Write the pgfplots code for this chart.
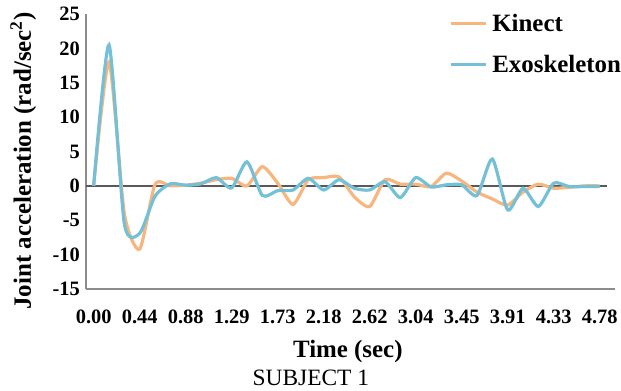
\documentclass[border=0pt]{standalone}
\usepackage{fontspec}
\setmainfont{Liberation Serif}
\usepackage{pgfplots}
\pgfplotsset{compat=1.18}
\definecolor{kin}{RGB}{247,182,128}
\definecolor{exo}{RGB}{116,192,214}
\pgfplotstableread{
k kinect exo
0 0 0
1 18.0 20.5
2 -4.0 -5.5
3 -9.2 -6.9
4 0.2 -1.5
5 0.0 0.3
6 0.1 0.1
7 0.4 0.3
8 0.9 1.2
9 1.1 -0.3
10 0.0 3.5
11 2.8 -1.4
12 0.4 -0.7
13 -2.7 -0.6
14 0.9 1.1
15 1.2 -0.6
16 1.3 0.9
17 -1.6 -0.35
18 -3.0 -0.6
19 0.9 0.6
20 0.25 -1.7
21 0.25 1.2
22 -0.1 -0.15
23 1.85 0.15
24 0.7 0.15
25 -0.9 -1.4
26 -1.9 3.9
27 -2.8 -3.5
28 -0.9 -0.35
29 0.25 -3.0
30 -0.35 0.4
31 -0.2 -0.1
32 0.0 -0.1
33 0.0 -0.1
}\datatable
\begin{document}
\begin{tikzpicture}
\useasboundingbox (0,0) rectangle (621bp,391bp);
\begin{axis}[
 at={(86bp,102bp)}, anchor=south west,
 width=529bp, height=275bp, scale only axis,
 xmin=-0.5, xmax=34, ymin=-15, ymax=25,
 axis lines*=left,
 axis line style={draw=black!45, line width=1.2bp},
 xtick={0,3,...,33},
 xticklabels={0.00,0.44,0.88,1.29,1.73,2.18,2.62,3.04,3.45,3.91,4.33,4.78},
 ytick={-15,-10,...,25},
 major tick length=0pt,
 tick label style={font=\fontsize{20.5}{24}\selectfont\bfseries},
 /pgf/number format/assume math mode=true,
 xticklabel style={anchor=base, yshift=-34bp, inner sep=0pt},
 yticklabel style={anchor=east, xshift=-6bp, inner sep=0pt},
 xlabel={Time (sec)},
 ylabel={Joint acceleration (rad/sec\textsuperscript{2})},
 label style={font=\fontsize{25}{30}\selectfont\bfseries},
 xlabel style={at={(axis description cs:0.495,0)}, anchor=base, yshift=-68bp, inner sep=0pt},
 ylabel style={at={(axis description cs:-0.104,0.465)}, anchor=base, inner sep=0pt},
 clip=false,
 legend style={at={(axis description cs:0.686,1)}, anchor=north west, draw=none, fill=none, inner sep=0pt, row sep=22bp, font=\fontsize{25}{30}\selectfont\bfseries, nodes={inner sep=0pt}},
 legend cell align=left,
 /tikz/every odd column/.append style={column sep=5bp},
 legend image code/.code={\draw[#1] (0bp,0bp) -- (35bp,0bp);},
]
\addplot[forget plot, draw=black!65, line width=1.3bp] coordinates {(-0.5,0) (33.5,0)};
\addplot[kin, line width=3.2bp, smooth, tension=0.4, no markers] table[x=k, y=kinect] {\datatable};
\addlegendentry{Kinect}
\addplot[exo, line width=3.2bp, smooth, tension=0.4, no markers] table[x=k, y=exo] {\datatable};
\addlegendentry{Exoskeleton}
\node[anchor=base, yshift=-96bp, inner sep=0pt, font=\fontsize{23.5}{28}\selectfont] at (axis description cs:0.425,0) {SUBJECT 1};
\end{axis}
\end{tikzpicture}
\end{document}
